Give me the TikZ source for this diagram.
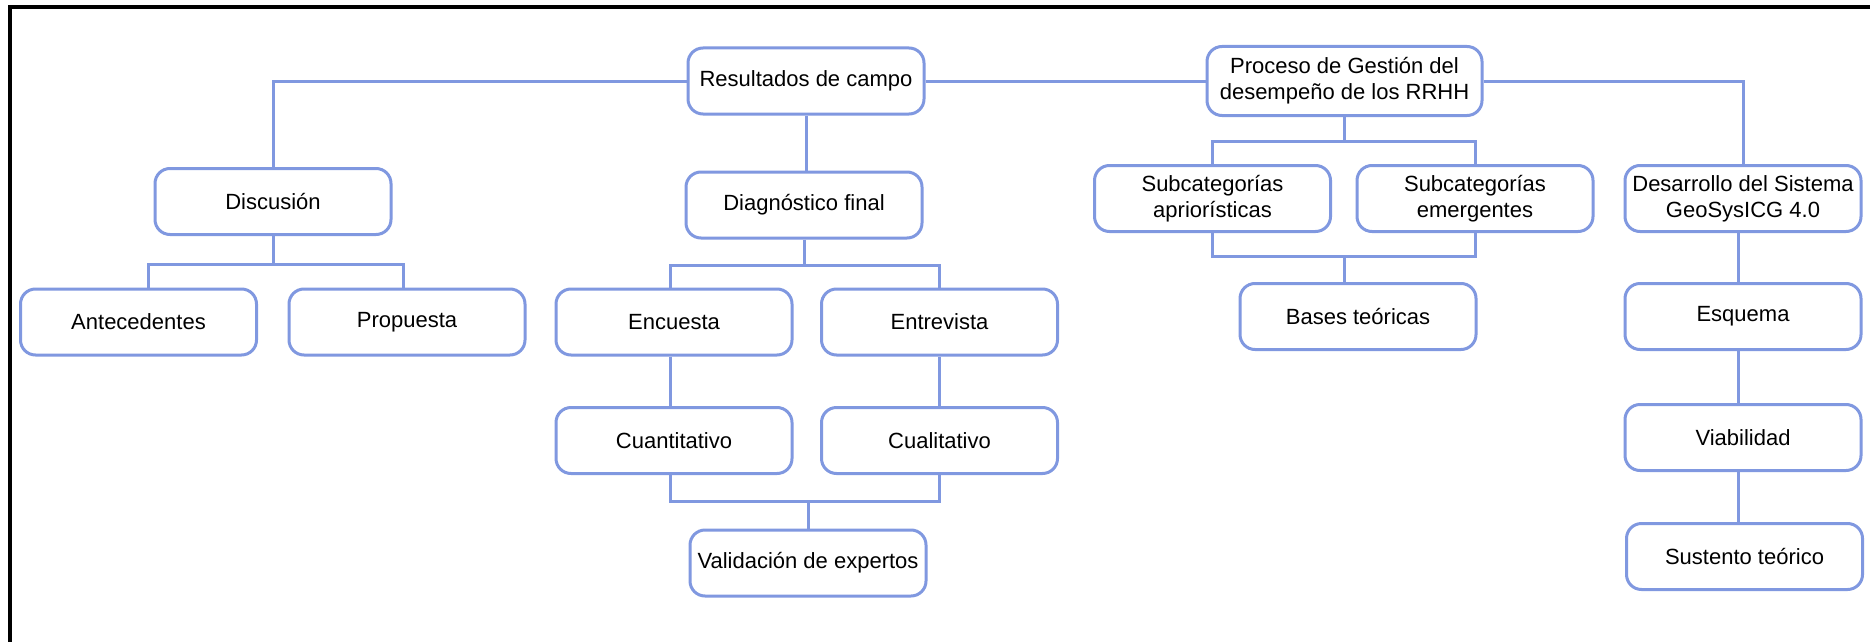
\documentclass[tikz,border=0pt]{standalone}
\usepackage{fontspec}
\setmainfont{Liberation Sans}
\usetikzlibrary{calc}
\definecolor{lineblue}{RGB}{128,152,224}
\begin{document}
\begin{tikzpicture}[x=1pt,y=-1pt,
  box/.style={draw=lineblue, line width=3pt, rounded corners=15pt, fill=white,
    minimum width=236pt, minimum height=66pt, align=center, inner sep=2pt,
    font=\fontsize{22}{26}\selectfont},
  link/.style={draw=lineblue, line width=3pt}]
\useasboundingbox (0,0) rectangle (1870,642);
\fill[white] (0,0) rectangle (1870,642);
\draw[line width=4pt] (10,642) -- (10,7) -- (1870,7);

% nodes
\node[box] (res) at (806,81) {Resultados de campo};
\node[box, minimum width=275pt, minimum height=69pt] (proc) at (1344.5,81) {Proceso de Gestión del\\desempeño de los RRHH};
\node[box] (disc) at (273,201.5) {Discusión};
\node[box] (diag) at (804,205) {Diagnóstico final};
\node[box] (sa) at (1212.5,198.5) {Subcategorías\\apriorísticas};
\node[box] (se) at (1475,198.5) {Subcategorías\\emergentes};
\node[box] (des) at (1743,198.5) {Desarrollo del Sistema\\GeoSysICG 4.0};
\node[box] (ant) at (138.5,322) {Antecedentes};
\node[box] (prop) at (407,322) {Propuesta};
\node[box] (enc) at (674,322) {Encuesta};
\node[box] (ent) at (939.5,322) {Entrevista};
\node[box] (bases) at (1358,316.5) {Bases teóricas};
\node[box] (esq) at (1743,316.5) {Esquema};
\node[box] (cuant) at (674,440.5) {Cuantitativo};
\node[box] (cual) at (939.5,440.5) {Cualitativo};
\node[box] (val) at (808,563) {Validación de expertos};
\node[box] (viab) at (1743,437.5) {Viabilidad};
\node[box] (sust) at (1744.5,556.5) {Sustento teórico};

% connectors
\draw[link] (res.west) -| (disc.north);
\draw[link] (res.east) -- (proc.west);
\draw[link] (proc.east) -| (des.north);
\draw[link] (res.south) -- (res.south |- diag.north);

\draw[link] (disc.south) -- ++(0,28);
\draw[link] ([xshift=10pt]ant.north) |- ($(disc.south)+(0,28)$) -| ([xshift=-4pt]prop.north);

\draw[link] (diag.south) -- ++(0,26);
\draw[link] ([xshift=-4pt]enc.north) |- ($(diag.south)+(0,26)$) -| (ent.north);

\draw[link] ([xshift=-4pt]enc.south) -- ([xshift=-4pt]cuant.north);
\draw[link] (ent.south) -- (cual.north);
\draw[link] ([xshift=-4pt]cuant.south) |- ($(val.north)+(0,-27)$) -| (cual.south);
\draw[link] (val.north) -- ++(0,-27);

\draw[link] (proc.south) -- ++(0,24);
\draw[link] (sa.north) |- ($(proc.south)+(0,24)$) -| (se.north);

\draw[link] (sa.south) |- ($(bases.north)+(-14,-26)$) -| (se.south);
\draw[link] ([xshift=-14pt]bases.north) -- ++(0,-26);

\draw[link] ([xshift=-5pt]des.south) -- ([xshift=-5pt]esq.north);
\draw[link] ([xshift=-5pt]esq.south) -- ([xshift=-5pt]viab.north);
\draw[link] ([xshift=-5pt]viab.south) -- ([xshift=-6.5pt]sust.north);
\end{tikzpicture}
\end{document}
